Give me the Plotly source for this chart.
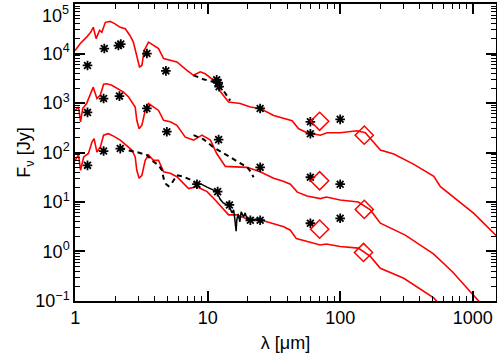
import plotly.graph_objects as go

# model SEDs (wavelength in micron, flux in Jy)
m1_wl = [1.0, 1.09, 1.22, 1.31, 1.37, 1.44, 1.53, 1.59, 1.69, 1.84, 2.00, 2.19, 2.39, 2.60, 2.75, 2.89,
         3.06, 3.19, 3.32, 3.58, 3.90, 4.26, 4.65, 5.22, 5.86, 6.98, 7.83, 8.79, 9.59, 11.1, 12.8, 14.4,
         17.6, 21.0, 24.9, 31.5, 37.5, 43.4, 48.6, 56.2, 70.8, 79.6, 100, 134, 155, 201, 254, 360, 509,
         571, 1020, 1530]
m1_fl = [11500, 15800, 21400, 26900, 33900, 20000, 29500, 26900, 42700, 44700, 39800, 33900, 31600,
         22900, 17000, 10000, 5370, 5750, 11500, 17000, 14500, 12600, 7940, 7240, 6760, 4570, 3630, 4270,
         3890, 2880, 1550, 1050, 977, 832, 776, 562, 490, 437, 302, 251, 224, 251, 251, 275, 251, 112,
         93.3, 57.5, 33.1, 20.4, 5.89, 2.0]

m2_wl = [1.0, 1.06, 1.10, 1.14, 1.22, 1.31, 1.37, 1.46, 1.55, 1.64, 1.73, 1.89, 2.07, 2.32, 2.53, 2.68,
         2.84, 2.92, 3.04, 3.19, 3.38, 3.58, 3.90, 4.26, 4.65, 5.22, 5.86, 6.78, 7.83, 9.06, 10.5, 11.7,
         13.6, 19.8, 24.9, 31.5, 37.2, 42.1, 47.5, 56.2, 70.8, 78.7, 100, 137, 169, 201, 310, 506, 703,
         1090, 1200]
m2_fl = [708, 832, 417, 776, 977, 1550, 2090, 1230, 1450, 2400, 2450, 2290, 1950, 1660, 1320, 1050,
         832, 447, 302, 355, 708, 977, 832, 708, 447, 417, 355, 204, 178, 224, 178, 95.5, 52.5, 50.1,
         40.7, 30.2, 26.3, 22.9, 15.8, 13.2, 11.7, 12.6, 11.0, 10.0, 6.92, 3.72, 2.14, 0.891, 0.389,
         0.105, 0.079]

m3_wl = [1.0, 1.06, 1.10, 1.16, 1.26, 1.34, 1.39, 1.46, 1.55, 1.64, 1.78, 1.95, 2.19, 2.45, 2.68, 2.84,
         2.92, 3.04, 3.19, 3.38, 3.58, 3.90, 4.26, 4.65, 5.22, 5.86, 6.21, 7.18, 8.30, 9.89, 11.4, 13.2,
         14.4, 16.6, 19.2, 23.6, 24.9, 37.5, 42.1, 46.7, 56.2, 70.8, 78.7, 100, 137, 169, 201, 302, 508,
         550]
m3_fl = [69.2, 89.1, 43.7, 81.3, 95.5, 162, 191, 102, 129, 224, 240, 214, 178, 141, 112, 81.3, 43.7,
         30.2, 34.7, 69.2, 89.1, 69.2, 69.2, 40.7, 38.0, 32.4, 27.5, 18.6, 20.4, 16.2, 11.0, 6.92, 5.50,
         5.50, 4.68, 4.27, 4.37, 3.16, 2.69, 1.82, 1.58, 1.35, 1.41, 1.26, 1.17, 0.794, 0.457, 0.288,
         0.115, 0.091]

# photometry
p1_wl = [1.24, 1.66, 2.12, 2.21, 3.48, 4.84, 11.7, 12.0, 12.2, 24.9, 59.6, 59.6, 100]
p1_fl = [5750, 12600, 14500, 15500, 10000, 4470, 2950, 2570, 2140, 776, 417, 240, 468]
p2_wl = [1.24, 1.64, 2.16, 3.48, 4.92, 12.1, 24.9, 59.6, 100]
p2_fl = [646, 1230, 1380, 776, 263, 182, 50.1, 31.6, 22.9]
p3_wl = [1.24, 1.64, 2.19, 8.3, 11.9, 14.6, 21.0, 24.9, 59.6, 100]
p3_fl = [55.0, 107, 120, 22.9, 16.2, 8.71, 4.27, 4.27, 3.72, 4.68]

# far-IR points (diamonds)
d_wl = [70, 152, 70, 152, 70, 150]
d_fl = [427, 224, 26.9, 7.08, 2.82, 0.955]

# spectra
s1_wl = [7.83, 9.27, 10.6, 12.0, 13.1, 14.3, 14.8]
s1_fl = [3630, 3020, 2750, 2510, 1820, 1260, 1120]
s2_wl = [7.83, 9.27, 11.0, 13.1, 15.3, 17.6, 19.9, 21.3, 22.2]
s2_fl = [224, 186, 129, 97.7, 77.6, 63.1, 50.1, 39.8, 31.6]
s3_wl = [2.19, 2.45, 2.92, 3.48, 3.79, 4.26, 4.52, 4.65, 4.86, 5.07, 5.37, 5.86, 6.58, 7.60, 8.30]
s3_fl = [126, 112, 102, 89.1, 69.2, 55.0, 43.7, 30.2, 22.9, 20.9, 24.0, 34.7, 32.4, 27.5, 23.4]
irs_wl = [8.30, 8.95, 9.89, 10.6, 11.7, 12.0, 12.4, 13.1, 14.0, 14.3, 14.8, 15.3, 15.7, 16.0, 16.4,
          16.6, 17.0, 17.5, 17.9, 18.7, 19.2, 19.9, 21.0, 22.1, 23.6, 24.9]
irs_fl = [23.4, 22.9, 20.0, 18.2, 16.2, 13.8, 11.5, 9.55, 8.71, 10.0, 7.24, 6.03, 6.92, 4.79, 2.57,
          4.37, 5.75, 3.98, 6.31, 5.01, 6.03, 4.37, 4.79, 4.37, 4.57, 4.17]

y_ticks = [0.1, 1, 10, 100, 1000, 10000, 100000]
y_labels = ["10<sup>−1</sup>", "10<sup>0</sup>", "10<sup>1</sup>", "10<sup>2</sup>",
            "10<sup>3</sup>", "10<sup>4</sup>", "10<sup>5</sup>"]
x_ticks = [1, 10, 100, 1000]
x_labels = ["1", "10", "100", "1000"]

FONT = "Liberation Sans, Arial"

fig = go.Figure()

for wl, fl in [(m1_wl, m1_fl), (m2_wl, m2_fl), (m3_wl, m3_fl)]:
    fig.add_trace(go.Scatter(x=wl, y=fl, mode="lines",
                             line=dict(color="#ff0000", width=1.6), showlegend=False))

for wl, fl in [(s1_wl, s1_fl), (s2_wl, s2_fl), (s3_wl, s3_fl)]:
    fig.add_trace(go.Scatter(x=wl, y=fl, mode="lines",
                             line=dict(color="black", width=2, dash="5px,4px"), showlegend=False))
fig.add_trace(go.Scatter(x=irs_wl, y=irs_fl, mode="lines",
                         line=dict(color="black", width=1.5), showlegend=False))

for wl, fl in [(p1_wl, p1_fl), (p2_wl, p2_fl), (p3_wl, p3_fl)]:
    fig.add_trace(go.Scatter(x=wl, y=fl, mode="markers",
                             marker=dict(symbol="asterisk-open", size=8, color="black",
                                         line=dict(color="black", width=1.8)),
                             showlegend=False))

fig.add_trace(go.Scatter(x=d_wl, y=d_fl, mode="markers",
                         marker=dict(symbol="diamond-open", size=14, color="#ff0000",
                                     line=dict(color="#ff0000", width=1.5)),
                         showlegend=False))


def minor_vals(lo, hi):
    return [m * 10 ** e for e in range(lo, hi) for m in range(2, 10)]


axis_common = dict(
    type="log", showgrid=False, zeroline=False, automargin=False,
    showline=True, linecolor="black", linewidth=1.5, mirror="allticks",
    ticks="inside", ticklen=10, tickwidth=1.5, tickcolor="black",
    ticklabeloverflow="allow",
    tickfont=dict(family=FONT, size=18, color="black"),
)

fig.update_xaxes(**axis_common, range=[-0.001, 3.176],
                 tickvals=x_ticks, ticktext=x_labels,
                 minor=dict(ticks="inside", ticklen=5, tickwidth=1, tickcolor="black",
                            tickvals=minor_vals(0, 4)),
                 title=dict(text="λ [μm]", font=dict(family=FONT, size=18, color="black"),
                            standoff=16))
# top label is drawn as an annotation so it stays inside the page, like the original
fig.update_yaxes(**axis_common, range=[-1.001, 5.001],
                 tickvals=y_ticks, ticktext=y_labels[:-1] + [""],
                 minor=dict(ticks="inside", ticklen=5, tickwidth=1, tickcolor="black",
                            tickvals=minor_vals(-1, 5)),
                 title=dict(text="F<sub>ν</sub> [Jy]", font=dict(family=FONT, size=18, color="black"),
                            standoff=0))

fig.add_annotation(text=y_labels[-1], xref="paper", yref="paper", x=0, y=1,
                   xanchor="right", yanchor="top", xshift=-4, yshift=3, showarrow=False,
                   font=dict(family=FONT, size=18, color="black"))

fig.update_layout(width=497, height=353, margin=dict(l=75, r=1, t=4, b=52),
                  plot_bgcolor="white", paper_bgcolor="white")

fig.write_html("out.html", config={"displayModeBar": False},
               post_script="document.body.style.margin='0px';document.body.style.overflow='hidden';")
